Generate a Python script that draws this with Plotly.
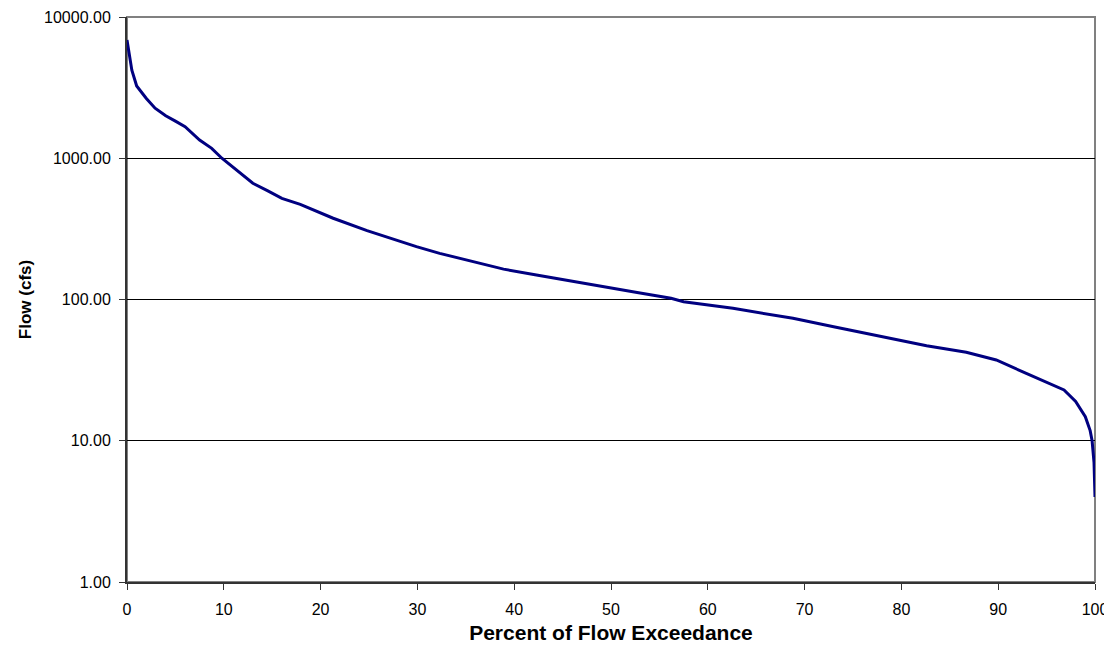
import plotly.graph_objects as go

percent_exceedance = [0, 0.5, 1, 2, 2.9, 4, 5, 6, 7.5, 8.75, 9.8, 11.4, 13, 14.5, 16, 17.9,
                      21.3, 24.8, 27.2, 29.9, 32.3, 35.1, 38.9, 42.3, 45.8, 49.2, 52.7,
                      56.2, 57.5, 62.6, 65.7, 68.8, 73.0, 76.0, 79.0, 82.6, 86.7, 89.8,
                      92.9, 96.8, 98.0, 99.0, 99.5, 99.7, 99.9, 100]
flow_cfs = [6870, 4200, 3250, 2650, 2260, 2000, 1830, 1671, 1346, 1175, 1000, 820, 665, 590,
            520, 472, 376, 307, 271, 237, 212, 190, 164, 149, 135, 123, 112,
            102, 96.4, 86.6, 79.8, 73.6, 64.2, 58.4, 53.1, 47.1, 42.3, 37.3,
            30.0, 22.9, 19.0, 14.8, 11.8, 10.0, 7.0, 4.0]

y_ticks = [1, 10, 100, 1000, 10000]
x_ticks = [0, 10, 20, 30, 40, 50, 60, 70, 80, 90, 100]

fig = go.Figure()
fig.add_trace(go.Scatter(x=percent_exceedance, y=flow_cfs, mode="lines",
                         line=dict(color="#000080", width=3), showlegend=False,
                         hoverinfo="skip"))

font_family = "Liberation Sans, Arial, sans-serif"
fig.update_layout(
    width=1104, height=636,
    margin=dict(l=119, r=17, t=9, b=62, autoexpand=False),
    paper_bgcolor="white", plot_bgcolor="white",
    font=dict(family=font_family, size=16, color="black"),
    xaxis=dict(range=[0, 100], tickvals=x_ticks, ticktext=[str(v) for v in x_ticks],
               showgrid=False, zeroline=False, showline=True, linecolor="#333333",
               linewidth=2, ticks="outside", ticklen=6, tickcolor="#333333",
               ticklabelstandoff=6, automargin=False, ticklabeloverflow="allow",
               title=dict(text="<b>Percent of Flow Exceedance</b>",
                          font=dict(size=21, family=font_family), standoff=17)),
    yaxis=dict(type="log", range=[0, 4], tickvals=y_ticks,
               ticktext=["%.2f" % v for v in y_ticks],
               showgrid=True, gridcolor="black", gridwidth=1, zeroline=False,
               showline=True, linecolor="#333333", linewidth=2, ticks="outside",
               ticklen=6, tickcolor="#333333", ticklabelstandoff=5,
               automargin=False, ticklabeloverflow="allow",
               title=dict(text="<b>Flow (cfs)</b>",
                          font=dict(size=17, family=font_family), standoff=8)),
    shapes=[dict(type="rect", xref="paper", yref="paper", x0=0, y0=0, x1=1, y1=1,
                 line=dict(color="#808080", width=2), layer="below")],
)

fig.write_html("out.html")
